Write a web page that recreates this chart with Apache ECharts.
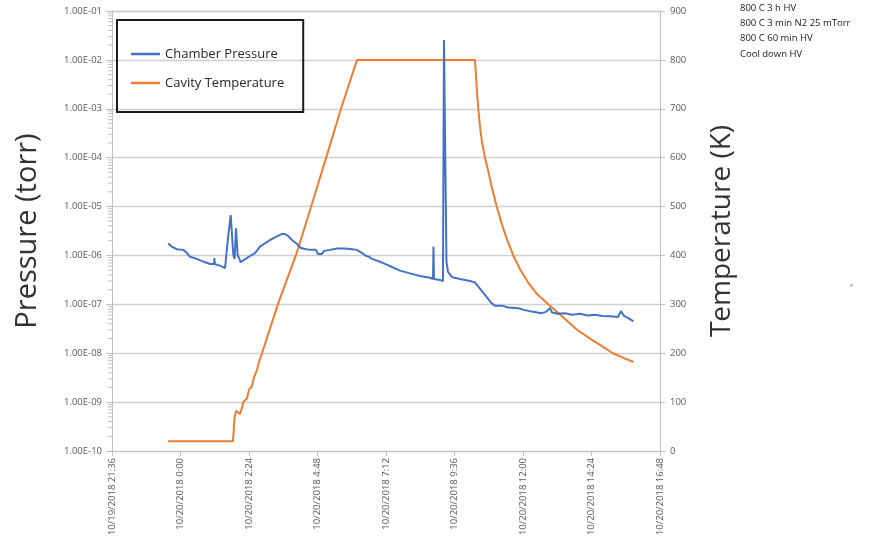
<!DOCTYPE html>
<html>
<head>
<meta charset="utf-8">
<script src="https://cdn.jsdelivr.net/npm/echarts@6/dist/echarts.min.js"></script>
<style>
  html, body { margin: 0; padding: 0; background: #fff; }
  #chart { width: 877px; height: 539px; }
</style>
</head>
<body>
<div id="chart"></div>
<script>
// Time is in hours from 10/20/2018 0:00 (negative = previous evening).
const pressureTime = [
  -0.428, -0.308, -0.133, 0.098, 0.228, 0.333, 0.568, 0.799, 1.034, 1.174,
  1.184, 1.209, 1.384, 1.559, 1.675, 1.759, 1.850, 1.899, 1.944, 2.004,
  2.109, 2.319, 2.495, 2.610, 2.785, 3.136, 3.346, 3.556, 3.661, 3.766,
  3.906, 4.082, 4.222, 4.397, 4.572, 4.747, 4.817, 4.957, 5.028, 5.238,
  5.483, 5.763, 6.009, 6.184, 6.359, 6.499, 6.604, 6.709, 6.920, 7.165,
  7.410, 7.690, 8.041, 8.391, 8.741, 8.846, 8.864, 8.881, 9.091, 9.196,
  9.231, 9.284, 9.319, 9.372, 9.512, 9.792, 10.142, 10.318, 10.433, 10.668,
  10.903, 11.019, 11.254, 11.485, 11.835, 12.035, 12.305, 12.655, 12.806, 12.946,
  13.016, 13.226, 13.471, 13.716, 13.996, 14.277, 14.522, 14.767, 15.047, 15.328,
  15.433, 15.538, 15.678, 15.871
];
const pressureTorr = [
  1.78e-6, 1.51e-6, 1.34e-6, 1.30e-6, 1.12e-6, 9.4e-7, 8.5e-7, 7.5e-7, 6.7e-7, 6.7e-7,
  8.8e-7, 6.6e-7, 6.2e-7, 5.5e-7, 2.6e-6, 6.7e-6, 1.02e-6, 8.5e-7, 3.6e-6, 1.02e-6,
  7.3e-7, 8.8e-7, 1.02e-6, 1.11e-6, 1.51e-6, 2.07e-6, 2.39e-6, 2.75e-6, 2.75e-6, 2.51e-6,
  2.07e-6, 1.72e-6, 1.42e-6, 1.34e-6, 1.30e-6, 1.30e-6, 1.07e-6, 1.07e-6, 1.24e-6, 1.30e-6,
  1.38e-6, 1.38e-6, 1.34e-6, 1.30e-6, 1.12e-6, 9.8e-7, 9.4e-7, 8.5e-7, 7.7e-7, 6.7e-7,
  5.8e-7, 4.9e-7, 4.3e-7, 3.8e-7, 3.5e-7, 3.3e-7, 1.5e-6, 3.3e-7, 3.15e-7, 3.0e-7,
  2.55e-2, 2.55e-2, 7.4e-7, 4.6e-7, 3.6e-7, 3.3e-7, 3.0e-7, 2.8e-7, 2.3e-7, 1.56e-7,
  1.05e-7, 9.4e-8, 9.4e-8, 8.6e-8, 8.3e-8, 7.7e-8, 7.1e-8, 6.6e-8, 7.0e-8, 8.4e-8,
  6.8e-8, 6.4e-8, 6.6e-8, 6.1e-8, 6.4e-8, 5.9e-8, 6.1e-8, 5.8e-8, 5.7e-8, 5.5e-8,
  7.3e-8, 5.8e-8, 5.3e-8, 4.5e-8
];

const temperatureTime = [
  -0.438, 1.839, 1.892, 1.944, 2.014, 2.085, 2.120, 2.172, 2.190, 2.260,
  2.330, 2.400, 2.505, 2.575, 2.680, 2.750, 2.855, 3.416, 4.047, 4.572,
  5.098, 5.623, 6.184, 10.318, 10.353, 10.388, 10.433, 10.493, 10.563, 10.668,
  10.774, 10.914, 11.078, 11.264, 11.439, 11.660, 11.895, 12.175, 12.490, 12.886,
  13.296, 13.892, 14.347, 14.698, 15.153, 15.538, 15.871
];
const temperatureK = [
  20, 20, 67, 82, 86, 76, 74, 92, 100, 104,
  108, 125, 133, 151, 166, 182, 200, 301, 401, 499,
  599, 700, 800, 800, 766, 735, 700, 664, 632, 600,
  575, 538, 500, 463, 433, 400, 372, 345, 321, 300,
  279, 248, 230, 217, 200, 190, 182
];

const timeTickStart = -2.4;   // 10/19/2018 21:36
const timeTickEnd = 16.8;     // 10/20/2018 16:48
const timeTickStep = 2.4;     // 2 h 24 min

const notes = [
  '800 C 3 h HV',
  '800 C 3 min N2 25 mTorr',
  '800 C 60 min HV',
  'Cool down HV'
];

const seriesNames = ['Chamber Pressure', 'Cavity Temperature'];
const seriesColors = ['#4472C4', '#ED7D31'];

const labelFont = '"Open Sans", "DejaVu Sans", sans-serif';

function pad2(n) { return (n < 10 ? '0' : '') + n; }

function timeLabel(v) {
  let m = Math.round(v * 60);
  let day = 20;
  if (m < 0) { m += 1440; day = 19; }
  const hh = Math.floor(m / 60);
  const mm = m % 60;
  return '10/' + day + '/2018 ' + hh + ':' + pad2(mm);
}

function sciLabel(v) {
  const e = Math.round(Math.log10(v));
  return '1.00E' + (e < 0 ? '-' : '+') + pad2(Math.abs(e));
}

const pressureData = pressureTime.map((t, i) => [t, pressureTorr[i]]);
const temperatureData = temperatureTime.map((t, i) => [t, temperatureK[i]]);

const chart = echarts.init(document.getElementById('chart'), null, { renderer: 'canvas' });

const gridColor = '#d0d0d0';
const axisColor = '#bfbfbf';
const tickText = '#595959';

chart.setOption({
  animation: false,
  backgroundColor: '#ffffff',
  grid: { left: 112, right: 217, top: 11, bottom: 88 },
  legend: {
    orient: 'vertical',
    left: 117,
    top: 20,
    padding: [26, 19, 21, 14],
    borderColor: '#1a1a1a',
    borderWidth: 2,
    icon: 'rect',
    itemWidth: 29,
    itemHeight: 2.5,
    itemGap: 13,
    data: seriesNames,
    textStyle: { fontFamily: labelFont, fontSize: 13, color: '#262626', lineHeight: 16 }
  },
  xAxis: {
    type: 'value',
    min: timeTickStart,
    max: timeTickEnd,
    interval: timeTickStep,
    axisLine: { show: true, onZero: false, lineStyle: { color: axisColor, width: 1 } },
    axisTick: { show: true, length: 5, lineStyle: { color: axisColor } },
    splitLine: { show: false },
    axisLabel: {
      rotate: 90,
      margin: 7,
      fontFamily: labelFont,
      fontSize: 9.5,
      color: tickText,
      formatter: timeLabel
    }
  },
  yAxis: [
    {
      type: 'log',
      logBase: 10,
      min: 1e-10,
      max: 1e-1,
      interval: 1,
      name: 'Pressure (torr)',
      nameLocation: 'middle',
      nameGap: 70,
      nameTextStyle: { fontFamily: labelFont, fontSize: 29, color: '#333333' },
      axisLine: { show: true, onZero: false, lineStyle: { color: axisColor, width: 1 } },
      axisTick: { show: true, length: 6, lineStyle: { color: axisColor } },
      splitLine: { show: true, lineStyle: { color: gridColor, width: 1.3 } },
      axisLabel: {
        margin: 10,
        fontFamily: labelFont,
        fontSize: 9.5,
        color: tickText,
        formatter: sciLabel
      }
    },
    {
      type: 'value',
      min: 0,
      max: 900,
      interval: 100,
      position: 'right',
      name: 'Temperature (K)',
      nameLocation: 'middle',
      nameRotate: 90,
      nameGap: 48,
      nameTextStyle: { fontFamily: labelFont, fontSize: 28, color: '#333333' },
      axisLine: { show: true, onZero: false, lineStyle: { color: axisColor, width: 1 } },
      axisTick: { show: true, length: 5, lineStyle: { color: axisColor } },
      splitLine: { show: false },
      axisLabel: {
        margin: 10,
        fontFamily: labelFont,
        fontSize: 9.5,
        color: tickText
      }
    }
  ],
  series: [
    {
      name: seriesNames[0],
      type: 'line',
      yAxisIndex: 0,
      data: pressureData,
      symbol: 'none',
      lineStyle: { color: seriesColors[0], width: 2 },
      itemStyle: { color: seriesColors[0] },
      z: 3
    },
    {
      name: seriesNames[1],
      type: 'line',
      yAxisIndex: 1,
      data: temperatureData,
      symbol: 'none',
      lineStyle: { color: seriesColors[1], width: 2 },
      itemStyle: { color: seriesColors[1] },
      z: 2
    }
  ]
});

// Log-scale minor ticks (2..9 in each decade) and the run notes.
function decorate() {
  const elements = [];
  const axisX = chart.convertToPixel({ xAxisIndex: 0 }, timeTickStart);
  for (let e = -10; e < -1; e++) {
    for (let k = 2; k <= 9; k++) {
      const y = chart.convertToPixel({ yAxisIndex: 0 }, k * Math.pow(10, e));
      elements.push({
        type: 'line',
        silent: true,
        shape: { x1: axisX - 4, y1: y, x2: axisX, y2: y },
        style: { stroke: axisColor, lineWidth: 1 }
      });
    }
  }
  notes.forEach((t, i) => {
    elements.push({
      type: 'text',
      left: 740,
      top: 3 + i * 15.3,
      style: { text: t, fontFamily: labelFont, fontSize: 9.5, fill: '#1a1a1a' }
    });
  });
  elements.push({
    type: 'text',
    left: 850,
    top: 282,
    style: { text: 'e', fontFamily: labelFont, fontSize: 6, fill: '#8c8c8c' }
  });
  chart.setOption({ graphic: { elements: elements } });
}
decorate();
</script>
</body>
</html>
